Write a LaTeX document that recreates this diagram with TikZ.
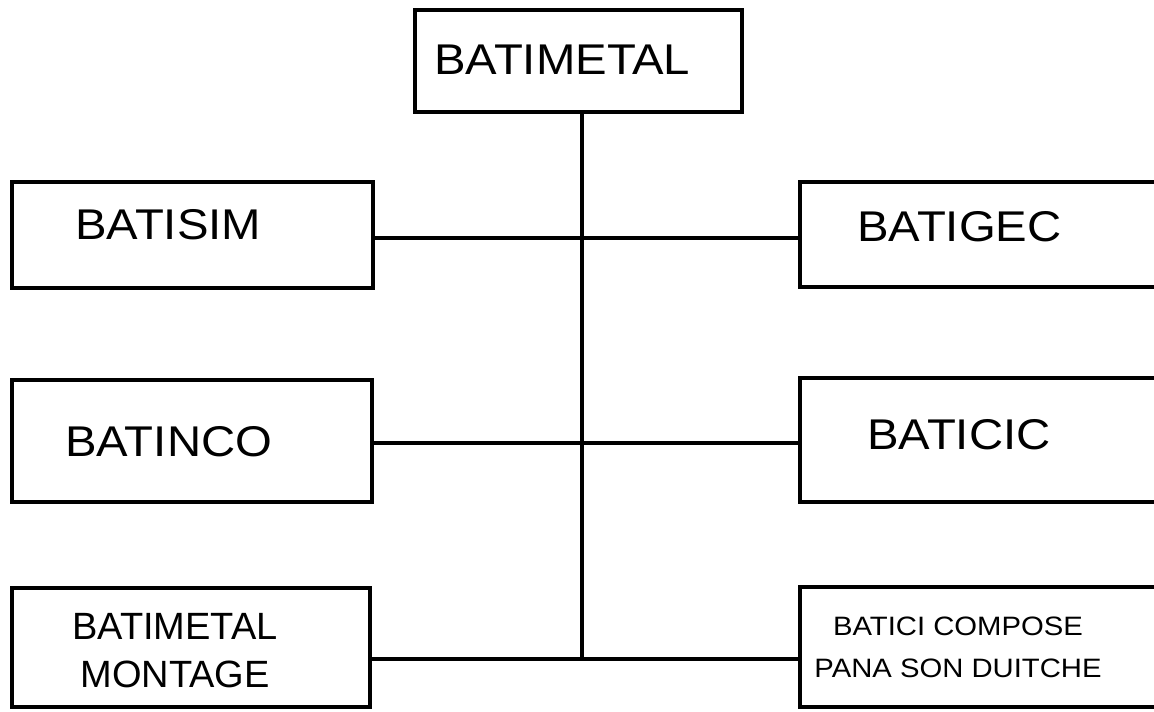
\documentclass[tikz,border=0pt]{standalone}
\usepackage{fontspec}
\setmainfont{Liberation Sans}
\newfontfamily\widefont[FakeStretch=1.1]{Liberation Sans}
\usetikzlibrary{positioning}

\begin{document}
\begin{tikzpicture}[x=0.5pt, y=-0.5pt, line width=2.4pt,
    unitbox/.style 2 args={draw, rectangle, inner sep=0pt, minimum width=#1, minimum height=#2},
    biglabel/.style={anchor=base west, inner sep=0pt, font=\widefont\fontsize{21.5}{26}\selectfont},
    montlabel/.style={align=center, inner sep=0pt, font=\fontsize{19}{24}\selectfont},
    complabel/.style={align=center, inner sep=0pt, font=\widefont\fontsize{13.3}{21}\selectfont}]
    \useasboundingbox (0,0) rectangle (1154,711);
    \clip (0,0) rectangle (1154,711);
    \fill[white] (0,0) rectangle (1154,711);

    % boxes
    \node[unitbox={163.5pt}{51pt}] (top) at (578.5,61) {};
    \node[unitbox={180.5pt}{53pt}] (simB) at (192.5,235) {};
    \node[unitbox={180pt}{61pt}] (incoB) at (192,441) {};
    \node[unitbox={179pt}{59.5pt}] (montB) at (191,647.5) {};
    \node[unitbox={200pt}{52.5pt}] (gecB) at (1000,234.5) {};
    \node[unitbox={200pt}{62pt}] (cicB) at (1000,440) {};
    \node[unitbox={200pt}{60pt}] (compB) at (1000,647) {};

    % labels
    \node[biglabel] (topT) at (432,75) {BATIMETAL};
    \node[biglabel] (simT) at (73,239) {BATISIM};
    \node[biglabel] (gecT) at (855,241) {BATIGEC};
    \node[biglabel] (incoT) at (63,456) {BATINCO};
    \node[biglabel] (cicT) at (865,449) {BATICIC};
    \node[montlabel] (montT) at (175,650.5) {BATIMETAL\\MONTAGE};
    \node[complabel] (compT) at (958,647) {BATICI COMPOSE\\PANA SON DUITCHE};

    % links
    \coordinate (row1) at (582,238);
    \coordinate (row2) at (582,443);
    \coordinate (hub) at (582,659);
    \draw (top.south -| hub) -- (hub);
    \draw (simB.east |- row1) -- (gecB.west |- row1);
    \draw (incoB.east |- row2) -- (cicB.west |- row2);
    \draw (montB.east |- hub) -- (compB.west |- hub);
\end{tikzpicture}
\end{document}
